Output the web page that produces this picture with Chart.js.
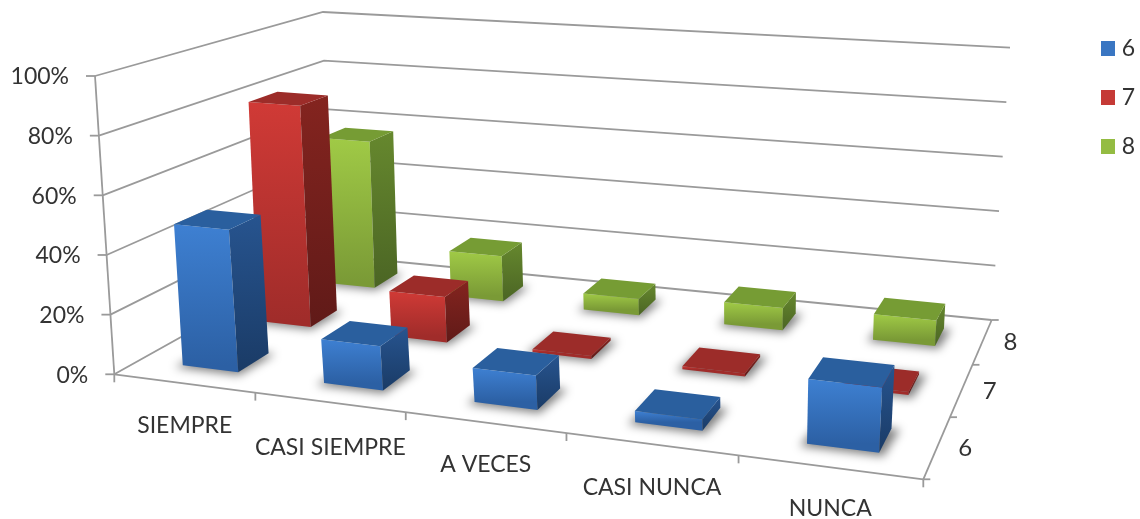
<!DOCTYPE html>
<html><head><meta charset="utf-8">
<style>html,body{margin:0;padding:0;background:#fff}canvas{display:block;filter:blur(0.4px)}</style>
<script src="https://cdn.jsdelivr.net/npm/chart.js@4"></script>
</head><body><canvas id="c" width="1140" height="519"></canvas>
<script>
const categories = ['SIEMPRE','CASI SIEMPRE','A VECES','CASI NUNCA','NUNCA'];
const seriesNames = ['6','7','8'];
const values6 = [48,14.5,11,3.5,20];
const values7 = [80,16,1,1,1];
const values8 = [56.5,17,6,8,9];
const yTicks = [0,20,40,60,80,100];

const FLOOR = [[114.3,374.3],[923.3,479.3],[991.7,320],[328,255]];
const ROOF  = [[95,76],[945,142],[1010,47.7],[323,12]];
const FONT = 'Lato';
const TEXT = '#333333';
const GRID = '#9a9a9a';
const ROW_SHIFT = [0.003,0.003,0.005];
const LABEL_DROP = [42,45,42,44,41];
const PAL = [
 {front:['#3e80d2','#2c60a4'],side:['#27548f','#1a3b66'],top:'#2a5f9e',flat:'#3a76c2'},
 {front:['#d03a36','#a02c2a'],side:['#84241f','#601a18'],top:'#9c2c29',flat:'#c53a36'},
 {front:['#a0ca46','#7a9a36'],side:['#66882e','#4b6524'],top:'#769c34',flat:'#94bc42'}
];
function homog(q){
  const [p0,p1,p2,p3]=q;
  const dx1=p1[0]-p2[0],dx2=p3[0]-p2[0],sx=p0[0]-p1[0]+p2[0]-p3[0];
  const dy1=p1[1]-p2[1],dy2=p3[1]-p2[1],sy=p0[1]-p1[1]+p2[1]-p3[1];
  const den=dx1*dy2-dx2*dy1;
  const g=(sx*dy2-dx2*sy)/den,h=(dx1*sy-sx*dy1)/den;
  const a=p1[0]-p0[0]+g*p1[0],b=p3[0]-p0[0]+h*p3[0],c=p0[0];
  const d=p1[1]-p0[1]+g*p1[1],e=p3[1]-p0[1]+h*p3[1],f=p0[1];
  return (u,w)=>{const k=g*u+h*w+1;return [(a*u+b*w+c)/k,(d*u+e*w+f)/k];};
}
const hF=homog(FLOOR),hR=homog(ROOF);
function P(u,w,z){const A=hF(u,w),B=hR(u,w);return [A[0]+(B[0]-A[0])*z,A[1]+(B[1]-A[1])*z];}
function poly(ctx,pts){ctx.beginPath();pts.forEach((p,i)=>i?ctx.lineTo(p[0],p[1]):ctx.moveTo(p[0],p[1]));ctx.closePath();}
function line(ctx,a,b){ctx.beginPath();ctx.moveTo(a[0],a[1]);ctx.lineTo(b[0],b[1]);ctx.stroke();}
function zOf(chart,v){const y=chart.scales.y;return (y.bottom-y.getPixelForValue(v))/(y.bottom-y.top);}
function boxOf(chart,el,di){
  const x=chart.scales.x,y=chart.scales.y,n=chart.data.datasets.length;
  const uc=(el.x-x.left)/x.width+ROW_SHIFT[di],du=el.width/2/x.width;
  const wc=(di+.5)/n,dw=.4/n/2;
  const z=(el.base-el.y)/(y.bottom-y.top);
  return {u0:uc-du,u1:uc+du,w0:wc-dw,w1:wc+dw,z};
}
const plugin3d={
  id:'plugin3d',
  afterLayout(chart){
    const L=chart.legend;
    L.left=1101-26;L.right=1135;L.width=60;L.top=11;
  },
  beforeDatasetsDraw(chart){
    const ctx=chart.ctx;
    ctx.save();
    ctx.strokeStyle=GRID;ctx.lineWidth=1.8;
    yTicks.forEach(v=>{
      const z=zOf(chart,v);
      const a=P(0,0,z),b=P(0,1,z),c=P(1,1,z);
      ctx.beginPath();ctx.moveTo(a[0],a[1]);ctx.lineTo(b[0],b[1]);ctx.lineTo(c[0],c[1]);ctx.stroke();
      line(ctx,a,[a[0]-9,a[1]]);
    });
    line(ctx,P(0,0,0),P(0,0,zOf(chart,100)));
    line(ctx,P(0,0,0),P(1,0,0));
    line(ctx,P(1,0,0),P(1,1,0));
    for(let i=0;i<=categories.length;i++){const p=P(i/categories.length,0,0);line(ctx,p,[p[0],p[1]+8]);}
    for(let i=0;i<=seriesNames.length;i++){const p=P(1,i/seriesNames.length,0);line(ctx,p,[p[0]+7,p[1]]);}
    ctx.filter='blur(5px)';ctx.fillStyle='rgba(0,0,0,.5)';
    chart.data.datasets.forEach((ds,di)=>{
      chart.getDatasetMeta(di).data.forEach(el=>{
        const b=boxOf(chart,el,di);
        const eu=.006,ew=.016;
        poly(ctx,[P(b.u0-eu,b.w0-ew,0),P(b.u1+eu,b.w0-ew,0),P(b.u1+eu*1.6,b.w1,0),P(b.u0,b.w1,0)]);
        ctx.fill();
      });
    });
    ctx.restore();
  },
  beforeDatasetDraw(chart,args){
    const ctx=chart.ctx,di=args.index,c=PAL[di];
    ctx.save();
    args.meta.data.forEach(el=>{
      const b=boxOf(chart,el,di);
      const f0=P(b.u0,b.w0,0),f1=P(b.u1,b.w0,0),f2=P(b.u1,b.w0,b.z),f3=P(b.u0,b.w0,b.z);
      const s0=P(b.u1,b.w1,0),s1=P(b.u1,b.w1,b.z),t=P(b.u0,b.w1,b.z);
      let g=ctx.createLinearGradient(0,f3[1],0,f0[1]);
      g.addColorStop(0,c.front[0]);g.addColorStop(1,c.front[1]);
      ctx.fillStyle=g;poly(ctx,[f0,f1,f2,f3]);ctx.fill();
      g=ctx.createLinearGradient(0,s1[1],0,f1[1]);
      g.addColorStop(0,c.side[0]);g.addColorStop(1,c.side[1]);
      ctx.fillStyle=g;poly(ctx,[f1,s0,s1,f2]);ctx.fill();
      ctx.fillStyle=c.top;poly(ctx,[f3,f2,s1,t]);ctx.fill();
    });
    ctx.restore();
    return false;
  },
  afterDatasetsDraw(chart){
    const ctx=chart.ctx;
    ctx.save();
    ctx.fillStyle=TEXT;ctx.textBaseline='middle';
    ctx.font='23px '+FONT;ctx.textAlign='right';
    yTicks.forEach(v=>{const p=P(0,0,zOf(chart,v));ctx.fillText(v+'%',p[0]-26,p[1]+1);});
    ctx.textAlign='center';
    const xs=chart.scales.x;
    categories.forEach((t,i)=>{const p=P((xs.getPixelForValue(i)-xs.left)/xs.width,0,0);ctx.fillText(t,p[0]+1,p[1]+LABEL_DROP[i]);});
    ctx.font='24px '+FONT;
    seriesNames.forEach((t,i)=>{const p=P(1,(i+.5)/seriesNames.length,0);ctx.fillText(t,p[0]+28,p[1]+1);});
    ctx.restore();
  }
};
function ds(label,data,i){return {label,data,backgroundColor:PAL[i].flat,borderWidth:0,grouped:false,barPercentage:.4,categoryPercentage:1};}
new Chart(document.getElementById('c'),{
  type:'bar',
  data:{labels:categories,datasets:[ds(seriesNames[0],values6,0),ds(seriesNames[1],values7,1),ds(seriesNames[2],values8,2)]},
  plugins:[plugin3d],
  options:{
    responsive:false,animation:false,
    layout:{padding:{left:95,right:30,top:76,bottom:145}},
    plugins:{
      tooltip:{enabled:false},
      legend:{position:'right',align:'start',
        labels:{boxWidth:14,boxHeight:15,padding:26,color:TEXT,textAlign:'right',font:{family:FONT,size:23}}}
    },
    scales:{
      x:{type:'category',offset:true,display:false,grid:{display:false}},
      y:{type:'linear',min:0,max:100,display:false,grid:{display:false},ticks:{stepSize:20}}
    }
  }
});
</script></body></html>
